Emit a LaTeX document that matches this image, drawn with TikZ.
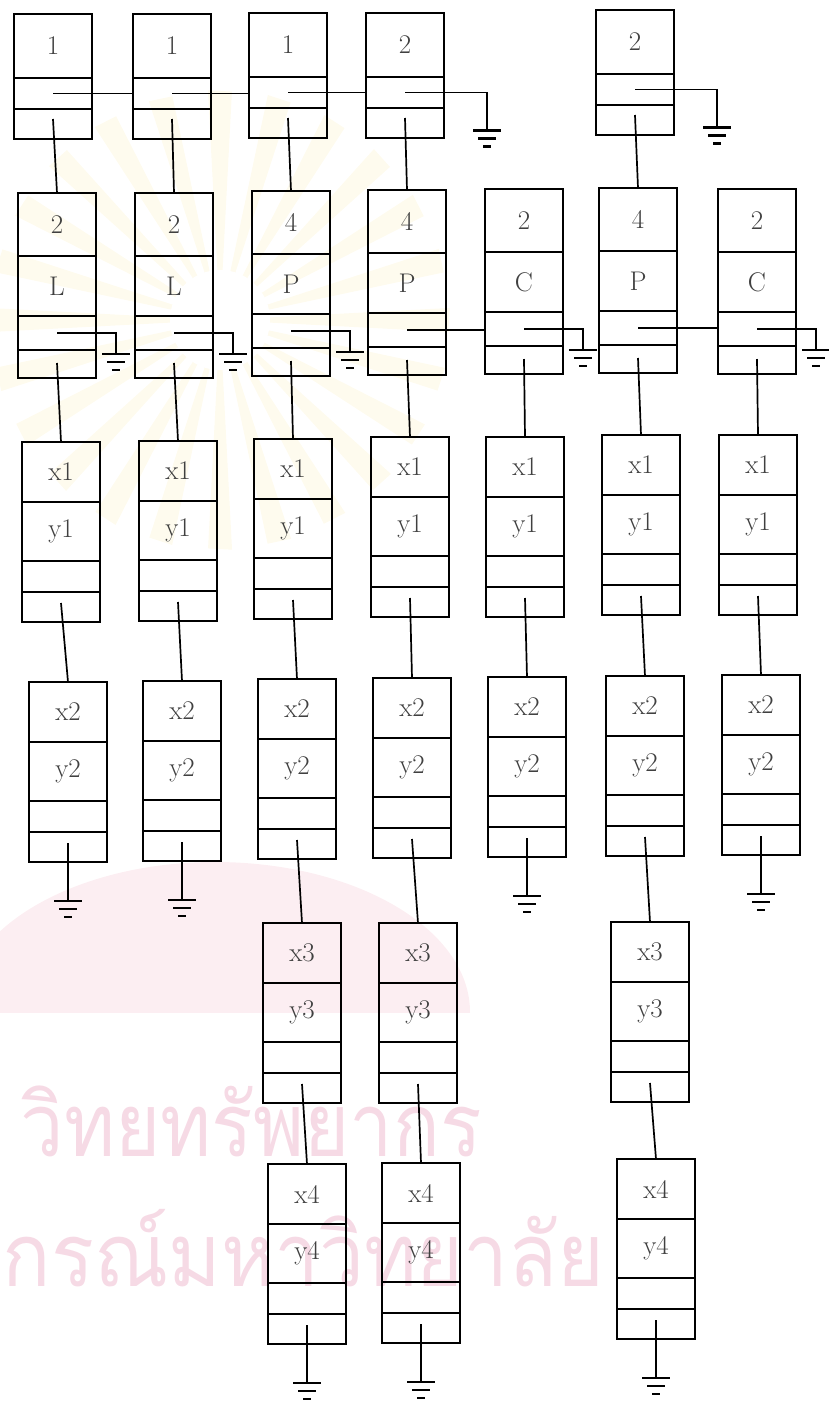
\documentclass[tikz,border=0pt]{standalone}
\usepackage{fontspec}
\newfontfamily\thaifont[Script=Thai]{Loma}
\usetikzlibrary{positioning}
\definecolor{wmpink}{RGB}{246,218,229}
\definecolor{wmband}{RGB}{252,238,242}
\definecolor{wmray}{RGB}{254,251,238}

\begin{document}
\begin{tikzpicture}[x=1pt,y=-1pt,line width=1.7pt,
    fld/.style={draw,outer sep=0pt,inner sep=0pt,minimum width=78pt,
      font=\fontsize{27}{27}\selectfont,text=black!75},
    gnd/.pic={\draw[line width=2.2pt] (-14,0) -- (14,0) (-9,8) -- (9,8) (-4,16) -- (4,16);}]
  \useasboundingbox (0,0) rectangle (828,1406);

  % watermark in the scan
  \foreach \a in {0,15,...,345}
    \fill[wmray] (220,320) -- ++(\a-3:230) -- ++(\a+93:24) -- cycle;
  \fill[white] (220,320) circle (50);
  \begin{scope}
    \clip (0,850) rectangle (470,1012);
    \fill[wmband] (215,1012) ellipse (255 and 150);
  \end{scope}
  \node[text=wmpink,font=\thaifont\fontsize{88}{88}\selectfont,anchor=base west,inner sep=0pt]
    (wm1) at (20,1156) {\scalebox{0.88}[1]{วิทยทรัพยากร}};
  \node[text=wmpink,font=\thaifont\fontsize{88}{88}\selectfont,anchor=base west,inner sep=0pt]
    (wm2) at (2,1286) {\scalebox{0.91}[1]{กรณ์มหาวิทยาลัย}};

  % head records
  \foreach \n/\x/\y/\v in {1/53/14/1,2/172/14/1,3/288/13/1,4/405/13/2,6/635/10/2}{
    \node[fld,minimum height=64pt,anchor=north] (h\n a) at (\x,\y) {\v};
    \node[fld,minimum height=31pt,below=0pt of h\n a] (h\n b) {};
    \node[fld,minimum height=30pt,below=0pt of h\n b] (h\n c) {};
  }

  % type records
  \foreach \n/\x/\y/\k/\s in {1/57/193/2/L,2/174/193/2/L,3/291/191/4/P,4/407/190/4/P,
      5/524/189/2/C,6/638/188/4/P,7/757/189/2/C}{
    \node[fld,minimum height=63pt,anchor=north] (t\n a) at (\x,\y) {\k};
    \node[fld,minimum height=60pt,below=0pt of t\n a] (t\n b) {\s};
    \node[fld,minimum height=34pt,below=0pt of t\n b] (t\n c) {};
    \node[fld,minimum height=28pt,below=0pt of t\n c] (t\n d) {};
  }

  % point records
  \foreach \n/\m/\x/\y in {1/1/61/442,2/1/178/441,3/1/293/439,4/1/410/437,5/1/525/437,
      6/1/641/435,7/1/758/435,1/2/68/682,2/2/182/681,3/2/297/679,4/2/412/678,
      5/2/527/677,6/2/645/676,7/2/761/675,3/3/302/923,4/3/418/923,6/3/650/922,
      3/4/307/1164,4/4/421/1163,6/4/656/1159}{
    \node[fld,minimum height=60pt,anchor=north] (p\n\m a) at (\x,\y) {x\m};
    \node[fld,minimum height=59pt,below=0pt of p\n\m a] (p\n\m b) {y\m};
    \node[fld,minimum height=31pt,below=0pt of p\n\m b] (p\n\m c) {};
    \node[fld,minimum height=30pt,below=0pt of p\n\m c] (p\n\m d) {};
  }

  % next pointers
  \foreach \a/\b in {1/2,2/3,3/4}
    \draw (h\a b.center) -- (h\a b.center -| h\b b.west);
  \foreach \n in {4,6}{
    \coordinate (hg\n) at ([shift={(43,38)}]h\n b.east);
    \draw (h\n b.center) -| (hg\n);
    \pic at (hg\n) {gnd};
  }
  \foreach \a/\b in {4/5,6/7}
    \draw (t\a c.center) -- (t\a c.center -| t\b c.west);
  \foreach \n in {1,2,3,5,7}{
    \coordinate (tg\n) at ([shift={(20,21)}]t\n c.east);
    \draw (t\n c.center) -| (tg\n);
    \pic at (tg\n) {gnd};
  }

  % down pointers
  \foreach \n in {1,2,3,4,6}
    \draw ([yshift=5pt]h\n c.center) -- (t\n a.north);
  \foreach \n in {1,...,7}
    \draw ([yshift=1pt]t\n d.center) -- (p\n1a.north);
  \foreach \n in {1,...,7}
    \draw ([yshift=4pt]p\n1d.center) -- (p\n2a.north);
  \foreach \n in {3,4,6}{
    \draw ([yshift=4pt]p\n2d.center) -- (p\n3a.north);
    \draw ([yshift=4pt]p\n3d.center) -- (p\n4a.north);
  }
  \foreach \n/\m in {1/2,2/2,5/2,7/2,3/4,4/4,6/4}{
    \coordinate (pg\n\m) at ([yshift=-39pt]p\n\m d.south);
    \draw ([yshift=4pt]p\n\m d.center) -- (pg\n\m);
    \pic at (pg\n\m) {gnd};
  }
\end{tikzpicture}
\end{document}
